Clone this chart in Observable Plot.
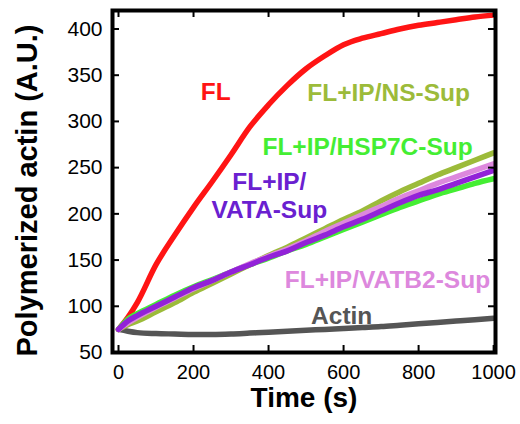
<!DOCTYPE html>
<html>
<head>
<meta charset="utf-8">
<script src="https://cdn.jsdelivr.net/npm/d3@7"></script>
<script src="https://cdn.jsdelivr.net/npm/@observablehq/plot@0.6"></script>
<style>
  html, body { margin: 0; padding: 0; background: #fff; }
  #chart { width: 520px; height: 424px; }
</style>
</head>
<body>
<div id="chart"></div>
<script>
const times = [0,25,50,100,150,200,250,300,350,400,450,500,550,600,650,700,750,800,850,900,950,1000];
const FL    = [75,88,104,145,177,207,235,264,294,318,339,357,371,383,390,395,400,404,407,410,413,415];
const NS    = [75,80,84,94,104,115,125,135,145,155,164,174,184,194,203,214,224,233,242,250,258,266];
const HSP7C = [75,86,92,102,112,121,129,137,145,152,160,167,175,183,191,199,207,214,221,227,233,238];
const VATA  = [75,84,90,100,110,120,128,137,145,153,160,169,177,186,194,203,212,220,226,233,240,247];
const VATB2 = [75,82,88,99,109,119,128,137,146,154,162,171,181,190,199,208,217,225,233,240,247,254];
const Actin = [75,73,71.5,70.5,70,69.5,69.5,70,71,72,73,74,75,76,77,78,79.5,81,82.5,84,85.5,87];

const seriesNames = ["Actin","FL","FL+IP/HSP7C-Sup","FL+IP/NS-Sup","FL+IP/VATB2-Sup","FL+IP/VATA-Sup"];
const seriesValues = [Actin, FL, HSP7C, NS, VATB2, VATA];
const seriesColors = ["#555555","#ff1414","#44ee33","#9cbb3a","#dd88dd","#9222d8"];

const xTicks = [0,200,400,600,800,1000];
const yTicks = [50,100,150,200,250,300,350,400];

const labelTexts  = ["FL","FL+IP/NS-Sup","FL+IP/HSP7C-Sup","FL+IP/\nVATA-Sup","FL+IP/VATB2-Sup","Actin"];
const labelX      = [259,720,664,402,717,595];
const labelY      = [333,332,273,220,130,91];
const labelColors = ["#ff1414","#9cbb3a","#44ee33","#6a20d0","#dd88dd","#555555"];

const rows = [];
seriesNames.forEach((name, i) => {
  times.forEach((t, j) => rows.push({series: name, t, v: seriesValues[i][j]}));
});
const labels = labelTexts.map((text, i) => ({text, x: labelX[i], y: labelY[i], color: labelColors[i]}));

const W = 520, H = 424, mL = 112, mR = 25, mT = 10, mB = 72;
const fw = W - mL - mR, fh = H - mT - mB, tl = 7;

const font = "'Liberation Sans', Arial, Helvetica, sans-serif";

const chart = Plot.plot({
  width: W, height: H,
  marginLeft: mL, marginRight: mR, marginTop: mT, marginBottom: mB,
  style: {fontFamily: font, fontSize: "20px", background: "#fff", color: "#000"},
  x: {domain: [-16, 1005]},
  y: {domain: [50, 420]},
  color: {domain: seriesNames, range: seriesColors},
  marks: [
    Plot.line(rows, {x: "t", y: "v", z: "series", stroke: "series", strokeWidth: 5.5, strokeLinecap: "round", strokeLinejoin: "round", curve: "monotone-x"}),
    Plot.text(labels, {x: "x", y: "y", text: "text", fill: "color", fontSize: 24.5, fontWeight: "bold", textAnchor: "middle", lineAnchor: "middle", lineHeight: 1.15}),
    Plot.tickX(xTicks, {x: d => d, insetTop: fh - tl, stroke: "#000", strokeWidth: 2}),
    Plot.tickX(xTicks, {x: d => d, insetBottom: fh - tl, stroke: "#000", strokeWidth: 2}),
    Plot.tickY(yTicks, {y: d => d, insetRight: fw - tl, stroke: "#000", strokeWidth: 2}),
    Plot.tickY(yTicks, {y: d => d, insetLeft: fw - tl, stroke: "#000", strokeWidth: 2}),
    Plot.frame({stroke: "#000", strokeWidth: 4}),
    Plot.axisX(xTicks, {tickSize: 0, tickPadding: 12, fontSize: 20, label: null, tickFormat: d => String(d)}),
    Plot.axisY(yTicks, {tickSize: 0, tickPadding: 10, fontSize: 21, label: null, tickFormat: d => String(d)}),
    Plot.text(["Time (s)"], {frameAnchor: "bottom", dy: 46, text: d => d, fontSize: 28, fontWeight: "bold", textAnchor: "middle", lineAnchor: "middle"}),
    Plot.text(["Polymerized actin (A.U.)"], {frameAnchor: "left", dx: -85, dy: 9, rotate: -90, text: d => d, fontSize: 29, fontWeight: "bold", textAnchor: "middle", lineAnchor: "middle"})
  ]
});
document.getElementById("chart").appendChild(chart);
</script>
</body>
</html>
